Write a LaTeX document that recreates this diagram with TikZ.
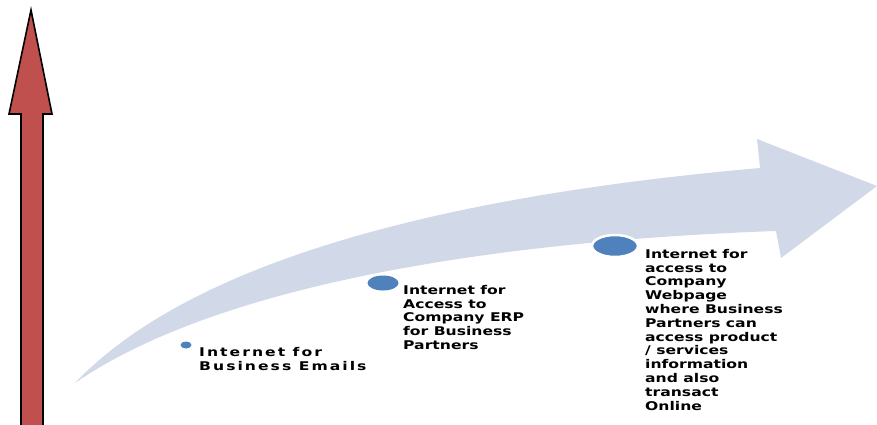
\documentclass[tikz,border=0pt]{standalone}
\usepackage{fontspec}
\setmainfont{DejaVu Sans}
\newfontfamily\tightlabel{DejaVu Sans Bold}[FakeStretch=1.3]
\newfontfamily\widelabel{DejaVu Sans Bold}[FakeStretch=1.3,LetterSpace=17]
\usetikzlibrary{shapes.geometric}
\definecolor{barred}{HTML}{C0504D}
\definecolor{bandfill}{HTML}{D1D9E8}
\definecolor{dotblue}{HTML}{4F81BD}
\begin{document}
\begin{tikzpicture}[x=1pt,y=-1pt,
  redbar/.style={fill=barred,draw=black,line width=1.6pt,line join=miter},
  band/.style={fill=bandfill},
  bullet/.style={ellipse,fill=dotblue,inner sep=0pt},
  halo/.style={draw=white,line width=2.5pt},
  stagetext/.style={anchor=north west,inner sep=0pt,align=left}]
\useasboundingbox (0,0) rectangle (877,424);

% vertical growth axis
\draw[redbar] (21,430) -- (21,114) -- (9,114) -- (31,10) -- (52,114)
  -- (43,114) -- (43,430);

% curved progress arrow
\fill[band] (75,383) .. controls (190,262) and (440,196) .. (760,168)
  -- (757,139) -- (877,186) -- (781,258) -- (776,231)
  .. controls (470,242) and (210,290) .. (75,383) -- cycle;

% stage markers
\node[bullet,minimum width=11pt,minimum height=7pt] (b1) at (186,345) {};
\node[bullet,minimum width=31pt,minimum height=15pt] (b2) at (383,283) {};
\node[bullet,halo,fill=dotblue,minimum width=46pt,minimum height=22pt] (b3) at (615,246) {};

% stage descriptions
\node[stagetext,font=\widelabel\fontsize{12}{13.8}\selectfont] (t1) at (199,347)
  {Internet for\\Business Emails};
\node[stagetext,font=\tightlabel\fontsize{12}{13.8}\selectfont] (t2) at (403,285)
  {Internet for\\Access to\\Company ERP\\for Business\\Partners};
\node[stagetext,font=\tightlabel\fontsize{12}{13.8}\selectfont] (t3) at (645,249)
  {Internet for\\access to\\Company\\Webpage\\where Business\\Partners can\\access product\\/ services\\information\\and also\\transact\\Online};
\end{tikzpicture}
\end{document}
